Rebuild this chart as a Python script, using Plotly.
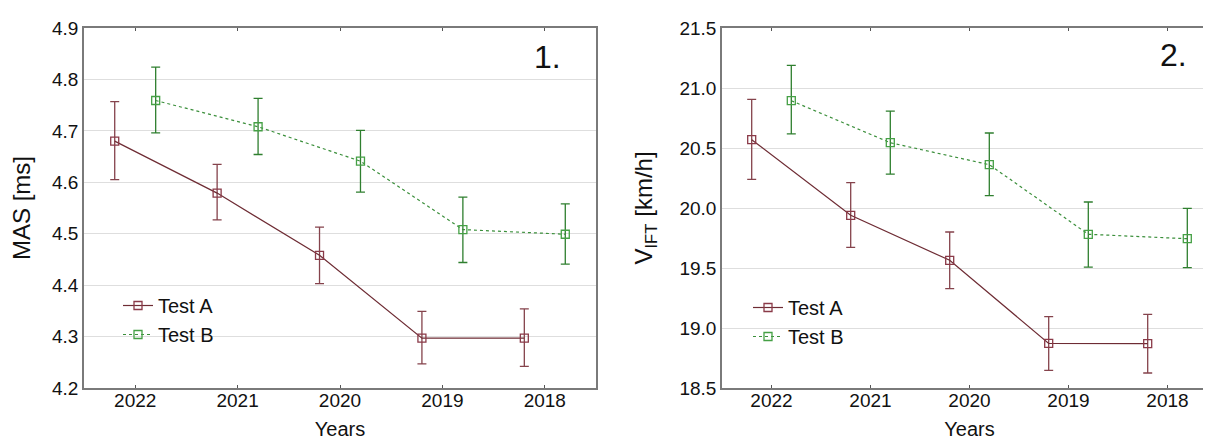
import plotly.graph_objects as go

years = ["2022", "2021", "2020", "2019", "2018"]

# Panel 1: MAS [ms]
mas_a = [4.680, 4.579, 4.458, 4.297, 4.297]
mas_a_hi = [4.757, 4.635, 4.513, 4.349, 4.354]
mas_a_lo = [4.605, 4.527, 4.403, 4.247, 4.242]
mas_b = [4.759, 4.708, 4.641, 4.508, 4.499]
mas_b_hi = [4.824, 4.763, 4.701, 4.571, 4.558]
mas_b_lo = [4.696, 4.654, 4.581, 4.444, 4.441]

# Panel 2: V_IFT [km/h]
v_a = [20.569, 19.939, 19.564, 18.872, 18.869]
v_a_hi = [20.906, 20.211, 19.800, 19.094, 19.114]
v_a_lo = [20.239, 19.672, 19.328, 18.647, 18.625]
v_b = [20.894, 20.544, 20.361, 19.781, 19.744]
v_b_hi = [21.189, 20.808, 20.625, 20.050, 19.997]
v_b_lo = [20.617, 20.283, 20.103, 19.508, 19.503]

FONT = "Liberation Sans, Arial, sans-serif"
COL_A = "#6e2c34"
COL_A_ERR = "#85434c"
COL_B = "#3b8f3b"
COL_B_ERR = "#2f7f2f"

W, H = 1211, 441
ML, MR, MT, MB = 0, 0, 20, 61


def err(vals, hi, lo):
    return [h - v for v, h in zip(vals, hi)], [v - l for v, l in zip(vals, lo)]


fig = go.Figure()

def add_pair(xa, ya, a, ahi, alo, b, bhi, blo, legend):
    up, dn = err(a, ahi, alo)
    fig.add_trace(go.Scatter(
        x=years, y=a, name="Test A", mode="lines+markers",
        xaxis=xa, yaxis=ya, offsetgroup="A", legend=legend,
        line=dict(color=COL_A, width=1.2),
        marker=dict(symbol="square-open", size=8, color="#8a3a48", line=dict(width=1.3)),
        error_y=dict(type="data", array=up, arrayminus=dn, color=COL_A_ERR,
                     thickness=1.3, width=4.5),
    ))
    up, dn = err(b, bhi, blo)
    fig.add_trace(go.Scatter(
        x=years, y=b, name="Test B", mode="lines+markers",
        xaxis=xa, yaxis=ya, offsetgroup="B", legend=legend,
        line=dict(color=COL_B, width=1.2, dash="dot"),
        marker=dict(symbol="square-open", size=8, color="#45a045", line=dict(width=1.3)),
        error_y=dict(type="data", array=up, arrayminus=dn, color=COL_B_ERR,
                     thickness=1.3, width=4.5),
    ))

add_pair("x", "y", mas_a, mas_a_hi, mas_a_lo, mas_b, mas_b_hi, mas_b_lo, "legend")
add_pair("x2", "y2", v_a, v_a_hi, v_a_lo, v_b, v_b_hi, v_b_lo, "legend2")

axis_common = dict(showline=True, mirror=True, linecolor="#7a7a7a", linewidth=1.5,
                   zeroline=False)

xcommon = dict(axis_common, type="category", categoryorder="array", categoryarray=years,
               range=[-0.5, 4.5], showgrid=False, ticks="inside", ticklen=3,
               tickcolor="#555", mirror="ticks", ticklabelstandoff=-6,
               tickfont=dict(family=FONT, size=19, color="#111"),
               title=dict(text="Years", font=dict(family=FONT, size=20, color="#111"),
                          standoff=12))

ytick = dict(family=FONT, size=19, color="#111")

plot_h = H - MT - MB
d1 = [76 / W, 588 / W]
d2 = [714 / W, 1209 / W]

fig.update_layout(
    width=W, height=H, margin=dict(l=ML, r=MR, t=MT, b=MB),
    paper_bgcolor="white", plot_bgcolor="white",
    scattermode="group", scattergap=0.2,
    font=dict(family=FONT, color="#111"),
    xaxis=dict(xcommon, domain=d1, anchor="y"),
    xaxis2=dict(xcommon, domain=d2, anchor="y2"),
    yaxis=dict(axis_common, domain=[0, 1], anchor="x", range=[4.2, 4.9], dtick=0.1,
               tickformat=".1f", showgrid=True, gridcolor="#dedede", gridwidth=1, ticks="",
               tickfont=ytick,
               title=dict(text="MAS [ms]", font=dict(family=FONT, size=24, color="#111"),
                          standoff=16)),
    yaxis2=dict(axis_common, domain=[0, 1], anchor="x2", range=[18.5, 21.5], dtick=0.5,
                tickformat=".1f", showgrid=True, gridcolor="#dedede", gridwidth=1, ticks="",
                tickfont=ytick,
                title=dict(text="V<sub>IFT</sub> [km/h]",
                           font=dict(family=FONT, size=24, color="#111"), standoff=20)),
    legend=dict(x=110 / W, xanchor="left", y=(H - MB - 278) / plot_h, yanchor="top",
                bgcolor="rgba(0,0,0,0)", font=dict(family=FONT, size=20, color="#111"),
                tracegroupgap=0),
    legend2=dict(x=740 / W, xanchor="left", y=(H - MB - 280) / plot_h, yanchor="top",
                 bgcolor="rgba(0,0,0,0)", font=dict(family=FONT, size=20, color="#111"),
                 tracegroupgap=0),
    annotations=[
        dict(text="1.", xref="x domain", yref="y domain", x=0.935, y=0.92,
             xanchor="right", yanchor="middle", showarrow=False,
             font=dict(family=FONT, size=32, color="#111")),
        dict(text="2.", xref="x2 domain", yref="y2 domain", x=0.943, y=0.925,
             xanchor="right", yanchor="middle", showarrow=False,
             font=dict(family=FONT, size=32, color="#111")),
    ],
)

fig.write_html("out.html")
